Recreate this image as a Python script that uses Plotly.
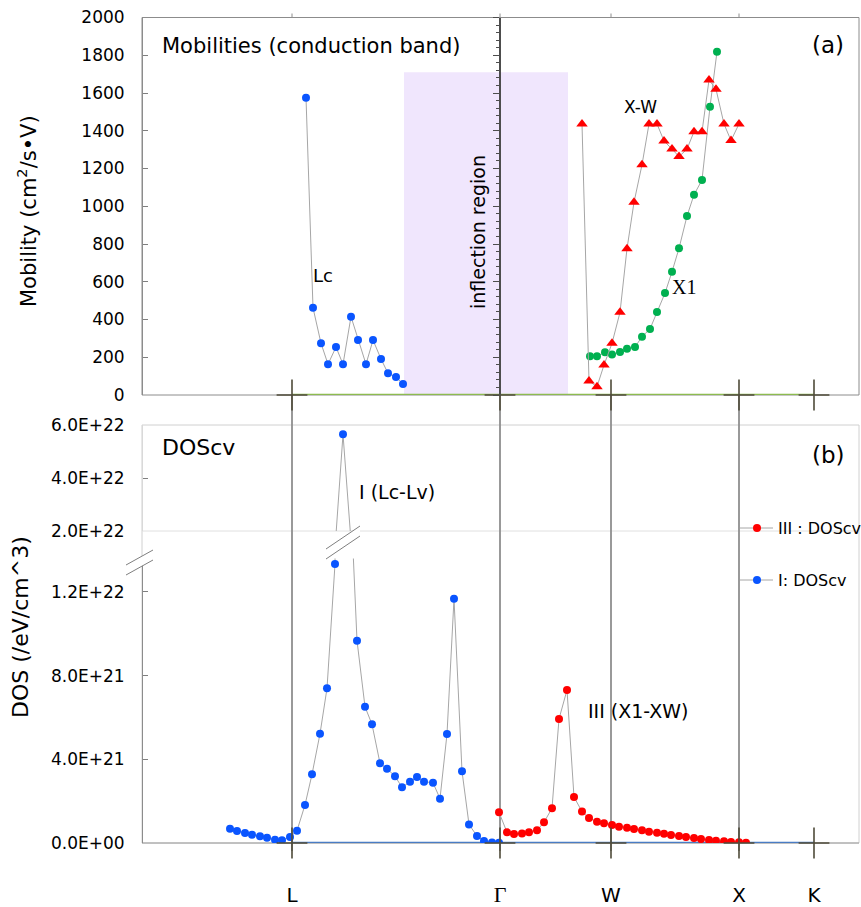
import plotly.graph_objects as go

# ---------------- data ----------------
# k-path positions (arbitrary path units)
k_ticks = [0.0, 2.08, 3.19, 4.47, 5.22]
k_labels = ["L", "<span style='font-family:Liberation Serif;font-size:22px'>Γ</span>", "W", "X", "K"]
k_guides = [0.0, 2.08, 3.19, 4.47]
k_range = [-1.50, 5.67]

# (a) Mobilities, conduction band (cm^2/s·V)
mob_Lc_k = [0.14, 0.21, 0.29, 0.36, 0.44, 0.51, 0.59, 0.66, 0.74, 0.81, 0.89, 0.96, 1.04, 1.11]
mob_Lc = [1575, 462, 274, 163, 254, 163, 415, 291, 163, 291, 191, 115, 95, 58]

mob_XW_k = [2.90, 2.97, 3.05, 3.12, 3.20, 3.28, 3.35, 3.42, 3.50, 3.57, 3.65,
            3.72, 3.80, 3.87, 3.95, 4.02, 4.10, 4.17, 4.24, 4.32, 4.39, 4.47]
mob_XW = [1436, 74, 44, 159, 274, 438, 775, 1021, 1220, 1436, 1436,
          1346, 1303, 1263, 1303, 1395, 1395, 1669, 1620, 1436, 1348, 1436]

mob_X1_k = [2.98, 3.05, 3.13, 3.20, 3.28, 3.35, 3.43, 3.50, 3.58, 3.65, 3.73,
            3.80, 3.87, 3.95, 4.02, 4.10, 4.18, 4.25]
mob_X1 = [205, 205, 226, 214, 228, 245, 254, 309, 350, 440, 540,
          653, 777, 948, 1061, 1139, 1527, 1819]

inflection_k = [1.12, 2.76]
inflection_top = 1710

# (b) DOScv (/eV/cm^3), values in units of 1e21
dos_I_k = [-0.62, -0.55, -0.47, -0.40, -0.32, -0.25, -0.17, -0.10, -0.02, 0.05,
           0.13, 0.20, 0.28, 0.35, 0.43, 0.51, 0.59, 0.65, 0.73, 0.80,
           0.88, 0.95, 1.03, 1.10, 1.18, 1.25, 1.32, 1.41, 1.48, 1.55,
           1.62, 1.70, 1.77, 1.85, 1.92, 2.00, 2.07]
dos_I_e21 = [0.68, 0.57, 0.48, 0.40, 0.32, 0.25, 0.16, 0.13, 0.29, 0.59,
             1.82, 3.28, 5.22, 7.39, 13.33, 56.5, 16.2, 9.67, 6.51, 5.67,
             3.81, 3.55, 3.19, 2.66, 2.93, 3.15, 2.93, 2.88, 2.12, 5.21,
             11.67, 3.43, 0.89, 0.33, 0.10, 0.02, 0.01]

dos_III_k = [2.07, 2.15, 2.22, 2.30, 2.37, 2.45, 2.52, 2.60, 2.67, 2.75,
             2.82, 2.90, 2.97, 3.05, 3.12, 3.20, 3.27, 3.35, 3.42, 3.50,
             3.57, 3.65, 3.72, 3.79, 3.87, 3.94, 4.02, 4.09, 4.17, 4.24,
             4.32, 4.39, 4.47, 4.54]
dos_III_e21 = [1.47, 0.51, 0.43, 0.45, 0.51, 0.61, 0.99, 1.66, 5.93, 7.31,
               2.20, 1.50, 1.19, 1.02, 0.94, 0.86, 0.78, 0.73, 0.67, 0.61,
               0.54, 0.49, 0.44, 0.38, 0.33, 0.29, 0.24, 0.19, 0.14, 0.11,
               0.08, 0.05, 0.03, 0.01]

legend_names = ["III : DOScv", "I: DOScv"]

mob_ticks = list(range(0, 2001, 200))
dos_low_ticks = [0, 4e21, 8e21, 1.2e22]
dos_low_text = ["0.0E+00", "4.0E+21", "8.0E+21", "1.2E+22"]
dos_up_ticks = [2e22, 4e22, 6e22]
dos_up_text = ["2.0E+22", "4.0E+22", "6.0E+22"]
dos_low_range = [0, 1.36e22]
dos_up_range = [2e22, 6e22]

# ---------------- style ----------------
W, H = 861, 907
FONT = "DejaVu Sans"
BLUE = "#0A55FF"
RED = "#FF0000"
GREEN = "#00B050"
LINE = "#A6A6A6"


def px(x):
    return x / W


def py(y):
    return 1 - y / H


X0, X1 = 142, 859
TOP = (17.5, 395)
LOW = (558.4, 843)
UP = (425, 531)

dos_I = [v * 1e21 for v in dos_I_e21]
dos_III = [v * 1e21 for v in dos_III_e21]

fig = go.Figure()

# invisible trace so the axis drawn at Gamma is rendered
fig.add_trace(go.Scatter(x=[k_ticks[1]], y=[0], xaxis="x", yaxis="y4", mode="markers",
                         marker=dict(opacity=0), showlegend=False, hoverinfo="skip"))

# panel (a)
fig.add_trace(go.Scatter(x=mob_Lc_k, y=mob_Lc, xaxis="x", yaxis="y", mode="lines+markers",
                         line=dict(color=LINE, width=1), marker=dict(color=BLUE, size=8),
                         showlegend=False))
fig.add_trace(go.Scatter(x=mob_X1_k, y=mob_X1, xaxis="x", yaxis="y", mode="lines+markers",
                         line=dict(color=LINE, width=1), marker=dict(color=GREEN, size=8),
                         showlegend=False))
fig.add_trace(go.Scatter(x=mob_XW_k, y=mob_XW, xaxis="x", yaxis="y", mode="lines+markers",
                         line=dict(color=LINE, width=1),
                         marker=dict(color=RED, size=10, symbol="triangle-up"),
                         showlegend=False))

# panel (b) lower and upper parts of the broken axis
for ya in ("y2", "y3"):
    fig.add_trace(go.Scatter(x=dos_I_k, y=dos_I, xaxis="x", yaxis=ya, mode="lines+markers",
                             line=dict(color=LINE, width=1), marker=dict(color=BLUE, size=8),
                             name=legend_names[1], showlegend=False))
    fig.add_trace(go.Scatter(x=dos_III_k, y=dos_III, xaxis="x", yaxis=ya, mode="lines+markers",
                             line=dict(color=LINE, width=1), marker=dict(color=RED, size=8),
                             name=legend_names[0], showlegend=False))

# cross tick marks on the k axes
for ya in ("y", "y2"):
    fig.add_trace(go.Scatter(x=k_ticks, y=[0] * len(k_ticks), xaxis="x", yaxis=ya, mode="markers",
                             marker=dict(symbol="cross-thin", size=22,
                                         line=dict(color="#4F4B3A", width=1.6)),
                             showlegend=False, hoverinfo="skip", cliponaxis=False))

shapes = []
# frames
shapes.append(dict(type="rect", xref="paper", yref="paper", x0=px(X0), x1=px(X1),
                   y0=py(TOP[1]), y1=py(TOP[0]), line=dict(color="#8C8C8C", width=1), layer="below"))
shapes.append(dict(type="rect", xref="paper", yref="paper", x0=px(X0), x1=px(X1),
                   y0=py(LOW[1]), y1=py(UP[0]), line=dict(color="#D0D0D0", width=1), layer="below"))
shapes.append(dict(type="line", xref="paper", yref="paper", x0=px(X0), x1=px(X1),
                   y0=py(UP[1]), y1=py(UP[1]), line=dict(color="#E0E0E0", width=1), layer="below"))
shapes.append(dict(type="line", xref="paper", yref="paper", x0=px(X0), x1=px(X1),
                   y0=py(LOW[1]), y1=py(LOW[1]), line=dict(color="#9A9A9A", width=1), layer="below"))
# inflection region
shapes.append(dict(type="rect", xref="x", yref="y", x0=inflection_k[0], x1=inflection_k[1],
                   y0=0, y1=inflection_top, fillcolor="#F0E6FD", line=dict(width=0), layer="below"))
# k-axis lines
shapes.append(dict(type="line", xref="x", yref="y", x0=k_ticks[0], x1=k_ticks[-1], y0=0, y1=0,
                   line=dict(color="#8DBB50", width=2.5), layer="below"))
shapes.append(dict(type="line", xref="x", yref="y2", x0=k_ticks[0], x1=k_ticks[-1], y0=0, y1=0,
                   line=dict(color="#4A7CC4", width=2.5), layer="below"))
# vertical guides at symmetry points
for kk in k_guides:
    shapes.append(dict(type="line", xref="x", yref="paper", x0=kk, x1=kk,
                       y0=py(LOW[1] + 8), y1=py(TOP[1]),
                       line=dict(color="#8E8E8E", width=1.8), layer="below"))
    shapes.append(dict(type="line", xref="x", yref="paper", x0=kk, x1=kk,
                       y0=py(TOP[0]), y1=py(TOP[0] - 4),
                       line=dict(color="#8E8E8E", width=1), layer="below"))


# axis break marks
def brk(xa, ya, xb, yb, gap=10):
    shapes.append(dict(type="path", xref="paper", yref="paper",
                       path=f"M{px(xa)},{py(ya)} L{px(xb)},{py(yb)} L{px(xb)},{py(yb + gap)} L{px(xa)},{py(ya + gap)} Z",
                       fillcolor="white", line=dict(width=0), layer="above"))
    for off in (0, gap):
        shapes.append(dict(type="line", xref="paper", yref="paper",
                           x0=px(xa), y0=py(ya + off), x1=px(xb), y1=py(yb + off),
                           line=dict(color="#7F7F7F", width=1), layer="above"))


brk(126, 565, 153, 550)
brk(326, 549, 360, 526)

ann = []


def txt(x, y, s, size, **kw):
    d = dict(x=px(x), y=py(y), xref="paper", yref="paper", text=s, showarrow=False,
             font=dict(family=kw.pop("family", FONT), size=size, color="black"),
             xanchor=kw.pop("xanchor", "center"), yanchor="middle")
    d.update(kw)
    ann.append(d)


# manual legend (series key)
for name, col, yy in ((legend_names[0], RED, 528), (legend_names[1], BLUE, 580)):
    shapes.append(dict(type="line", xref="paper", yref="paper", x0=px(740), x1=px(773),
                       y0=py(yy), y1=py(yy), line=dict(color=LINE, width=1), layer="above"))
    shapes.append(dict(type="circle", xref="paper", yref="paper", x0=px(753), x1=px(761),
                       y0=py(yy + 4), y1=py(yy - 4), fillcolor=col, line=dict(width=0),
                       layer="above"))
    txt(776, yy, name, 16, xanchor="left")

txt(160, 46, "Mobilities (conduction band)", 21, xanchor="left")
txt(828, 45, "(a)", 23)
txt(323, 275, "Lc", 18)
txt(640, 107, "X-W", 17)
txt(684, 287, "X1", 20, family="Liberation Serif")
txt(478, 232, "inflection region", 19, textangle=-90)
txt(160, 447, "DOScv", 22, xanchor="left")
txt(828, 455, "(b)", 23)
txt(357, 492, "I (Lc-Lv)", 19, xanchor="left")
txt(586, 711, "III (X1-XW)", 19, xanchor="left")
txt(27, 211, "Mobility (cm<sup>2</sup>/s•V)", 21, textangle=-90)
txt(20, 627, "DOS (/eV/cm^3)", 22, textangle=-90)

gamma_paper = px(X0) + (k_ticks[1] - k_range[0]) / (k_range[1] - k_range[0]) * (px(X1) - px(X0))

tickfont = dict(family=FONT, size=17, color="black")
fig.update_layout(
    width=W, height=H, margin=dict(l=0, r=0, t=0, b=0),
    paper_bgcolor="white", plot_bgcolor="rgba(0,0,0,0)", showlegend=False,
    shapes=shapes, annotations=ann,
    xaxis=dict(domain=[px(X0), px(X1)], range=k_range, anchor="y2",
               tickvals=k_ticks, ticktext=k_labels, ticks="", showline=False,
               showgrid=False, zeroline=False, ticklabelstandoff=38,
               tickfont=dict(family=FONT, size=20, color="black"), automargin=False),
    yaxis=dict(domain=[py(TOP[1]), py(TOP[0])], range=[0, 2000], tickvals=mob_ticks,
               ticks="inside", ticklen=5, tickcolor="#7F7F7F", showline=True, linecolor="#8C8C8C",
               showgrid=False, zeroline=False, tickfont=tickfont, ticklabelstandoff=14,
               anchor="free", position=px(X0), automargin=False),
    yaxis4=dict(overlaying="y", range=[0, 2000], anchor="free", position=gamma_paper,
                side="left", showticklabels=False, showline=True, linecolor="#4D4D4D", linewidth=1.5,
                ticks="outside", dtick=200, ticklen=6, tickcolor="#4D4D4D",
                minor=dict(dtick=40, ticks="outside", ticklen=3, tickcolor="#4D4D4D"),
                showgrid=False, zeroline=False, automargin=False),
    yaxis2=dict(domain=[py(LOW[1]), py(LOW[0])], range=dos_low_range, tickvals=dos_low_ticks,
                ticktext=dos_low_text, ticks="inside", ticklen=5, tickcolor="#7F7F7F",
                showline=True, linecolor="#8C8C8C", showgrid=False, zeroline=False,
                tickfont=tickfont, ticklabelstandoff=14, anchor="free", position=px(X0),
                automargin=False),
    yaxis3=dict(domain=[py(UP[1]), py(UP[0])], range=dos_up_range, tickvals=dos_up_ticks,
                ticktext=dos_up_text, ticks="inside", ticklen=5, tickcolor="#7F7F7F",
                showline=True, linecolor="#D9D9D9", showgrid=False, zeroline=False,
                tickfont=tickfont, ticklabelstandoff=14, anchor="free", position=px(X0),
                automargin=False),
)

fig.write_html("out.html")
